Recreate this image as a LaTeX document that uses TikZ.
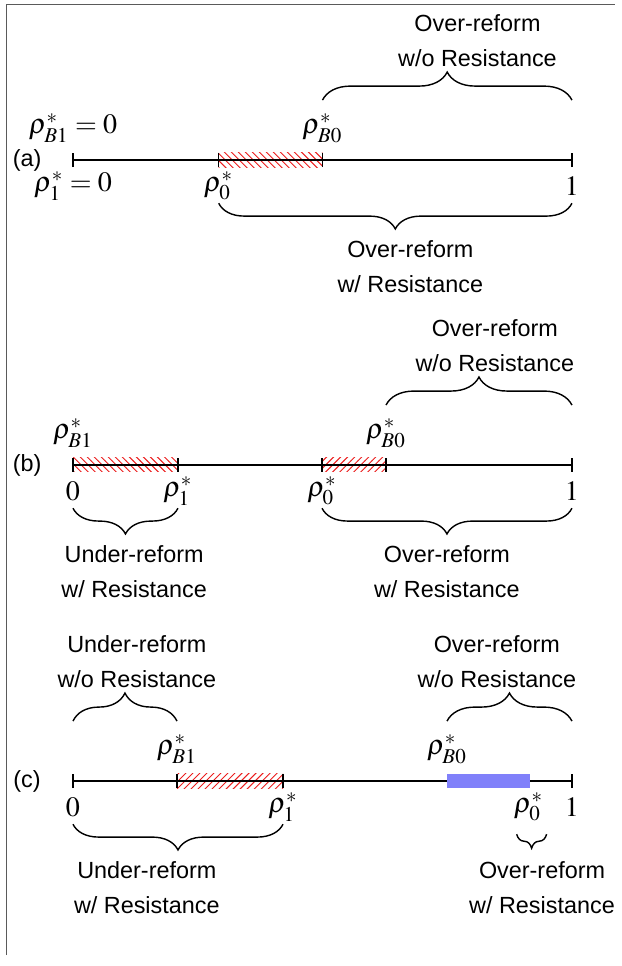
\documentclass[tikz,border=0pt]{standalone}
\usepackage{mathptmx}
\usepackage[no-math]{fontspec}
\setmainfont{Liberation Sans}
\usetikzlibrary{decorations.pathreplacing,patterns}
\definecolor{hatchred}{RGB}{235,30,30}
\definecolor{reformblue}{RGB}{128,128,250}
\definecolor{framegray}{RGB}{90,90,90}

\begin{document}
\begin{tikzpicture}[x=1cm, y=1cm,
    axis/.style={semithick},
    axtick/.style={semithick},
    upbrace/.style={decorate, decoration={brace, amplitude=12pt}, semithick},
    downbrace/.style={decorate, decoration={brace, amplitude=11pt, mirror}, semithick},
    lbl/.style={font=\fontsize{12}{14}\selectfont, inner sep=0pt},
    region/.style={align=center, font=\fontsize{10}{15}\selectfont, inner sep=0pt},
    hatchNW/.style={pattern=north west lines, pattern color=hatchred},
    hatchNE/.style={pattern=north east lines, pattern color=hatchred}]
  \useasboundingbox (-1.097,-12.115) rectangle (8.252,2.405);
  \draw[framegray] (-1.007,-11.95) -- (-1.007,2.345) -- (8.147,2.345);

  % (a)
  \coordinate (a0) at (0,0);
  \coordinate (aR0) at (2.19,0);
  \coordinate (aB0) at (3.75,0);
  \coordinate (a1) at (7.5,0);
  \path[hatchNW] ([yshift=-3pt]aR0) rectangle ([yshift=3pt]aB0);
  \draw[axis] (a0) -- (a1);
  \foreach \p in {a0,aR0,aB0,a1}
    \draw[axtick] ([yshift=-3pt]\p) -- ([yshift=3pt]\p);
  \node[region] (alabel) at (-0.69,0) {(a)};
  \node[lbl] (aB1lbl) at (0,0.48) {$\rho^*_{B1}=0$};
  \node[lbl] (aB0lbl) at (3.75,0.48) {$\rho^*_{B0}$};
  \node[lbl] (aR1lbl) at (0,-0.39) {$\rho^*_{1}=0$};
  \node[lbl] (aR0lbl) at (2.19,-0.39) {$\rho^*_{0}$};
  \node[lbl] (a1lbl) at (7.5,-0.39) {$1$};
  \draw[upbrace] ([yshift=0.9cm]aB0) -- ([yshift=0.9cm]a1);
  \node[region] (aovernores) at (6.08,1.8) {Over-reform\\w/o Resistance};
  \draw[downbrace] ([yshift=-0.65cm]aR0) -- ([yshift=-0.65cm]a1);
  \node[region] (aoverres) at (5.07,-1.6) {Over-reform\\w/ Resistance};

  % (b)
  \begin{scope}[yshift=-4.584cm]
    \coordinate (b0) at (0,0);
    \coordinate (bR1) at (1.578,0);
    \coordinate (bR0) at (3.743,0);
    \coordinate (bB0) at (4.705,0);
    \coordinate (b1) at (7.5,0);
    \path[hatchNW] ([yshift=-3pt]b0) rectangle ([yshift=3pt]bR1);
    \path[hatchNE] ([yshift=-3pt]bR0) rectangle ([yshift=3pt]bB0);
    \draw[axis] (b0) -- (b1);
    \foreach \p in {b0,bR1,bR0,bB0,b1}
      \draw[axtick] ([yshift=-3pt]\p) -- ([yshift=3pt]\p);
    \node[region] (blabel) at (-0.69,0) {(b)};
    \node[lbl] (bB1lbl) at (0,0.48) {$\rho^*_{B1}$};
    \node[lbl] (bB0lbl) at (4.705,0.48) {$\rho^*_{B0}$};
    \node[lbl] (b0lbl) at (0,-0.39) {$0$};
    \node[lbl] (bR1lbl) at (1.578,-0.39) {$\rho^*_{1}$};
    \node[lbl] (bR0lbl) at (3.743,-0.39) {$\rho^*_{0}$};
    \node[lbl] (b1lbl) at (7.5,-0.39) {$1$};
    \draw[upbrace] ([yshift=0.9cm]bB0) -- ([yshift=0.9cm]b1);
    \node[region] (bovernores) at (6.34,1.8) {Over-reform\\w/o Resistance};
    \draw[downbrace] ([yshift=-0.65cm]b0) -- ([yshift=-0.65cm]bR1);
    \node[region] (bunderres) at (0.92,-1.6) {Under-reform\\w/ Resistance};
    \draw[downbrace] ([yshift=-0.65cm]bR0) -- ([yshift=-0.65cm]b1);
    \node[region] (boverres) at (5.62,-1.6) {Over-reform\\w/ Resistance};
  \end{scope}

  % (c)
  \begin{scope}[yshift=-9.334cm]
    \coordinate (c0) at (0,0);
    \coordinate (cB1) at (1.563,0);
    \coordinate (cR1) at (3.157,0);
    \coordinate (cB0) at (5.622,0);
    \coordinate (cR0) at (6.869,0);
    \coordinate (c1) at (7.5,0);
    \path[hatchNE] ([yshift=-3pt]cB1) rectangle ([yshift=3pt]cR1);
    \draw[axis] (c0) -- (c1);
    \fill[reformblue] ([yshift=-3.2pt]cB0) rectangle ([yshift=3.2pt]cR0);
    \foreach \p in {c0,cB1,cR1,c1}
      \draw[axtick] ([yshift=-3pt]\p) -- ([yshift=3pt]\p);
    \node[region] (clabel) at (-0.69,0) {(c)};
    \node[lbl] (cB1lbl) at (1.563,0.48) {$\rho^*_{B1}$};
    \node[lbl] (cB0lbl) at (5.622,0.48) {$\rho^*_{B0}$};
    \node[lbl] (c0lbl) at (0,-0.39) {$0$};
    \node[lbl] (cR1lbl) at (3.157,-0.39) {$\rho^*_{1}$};
    \node[lbl] (cR0lbl) at (6.85,-0.39) {$\rho^*_{0}$};
    \node[lbl] (c1lbl) at (7.5,-0.39) {$1$};
    \draw[upbrace] ([yshift=0.9cm]c0) -- ([yshift=0.9cm]cB1);
    \node[region] (cundernores) at (0.96,1.8) {Under-reform\\w/o Resistance};
    \draw[upbrace] ([yshift=0.9cm]cB0) -- ([yshift=0.9cm]c1);
    \node[region] (covernores) at (6.37,1.8) {Over-reform\\w/o Resistance};
    \draw[downbrace] ([yshift=-0.65cm]c0) -- ([yshift=-0.65cm]cR1);
    \node[region] (cunderres) at (1.11,-1.6) {Under-reform\\w/ Resistance};
    \draw[decorate, decoration={brace, amplitude=6pt, mirror}, semithick]
      ([xshift=-0.2cm,yshift=-0.8cm]cR0) -- ([xshift=0.25cm,yshift=-0.8cm]cR0);
    \node[region] (coverres) at (7.05,-1.6) {Over-reform\\w/ Resistance};
  \end{scope}
\end{tikzpicture}
\end{document}
